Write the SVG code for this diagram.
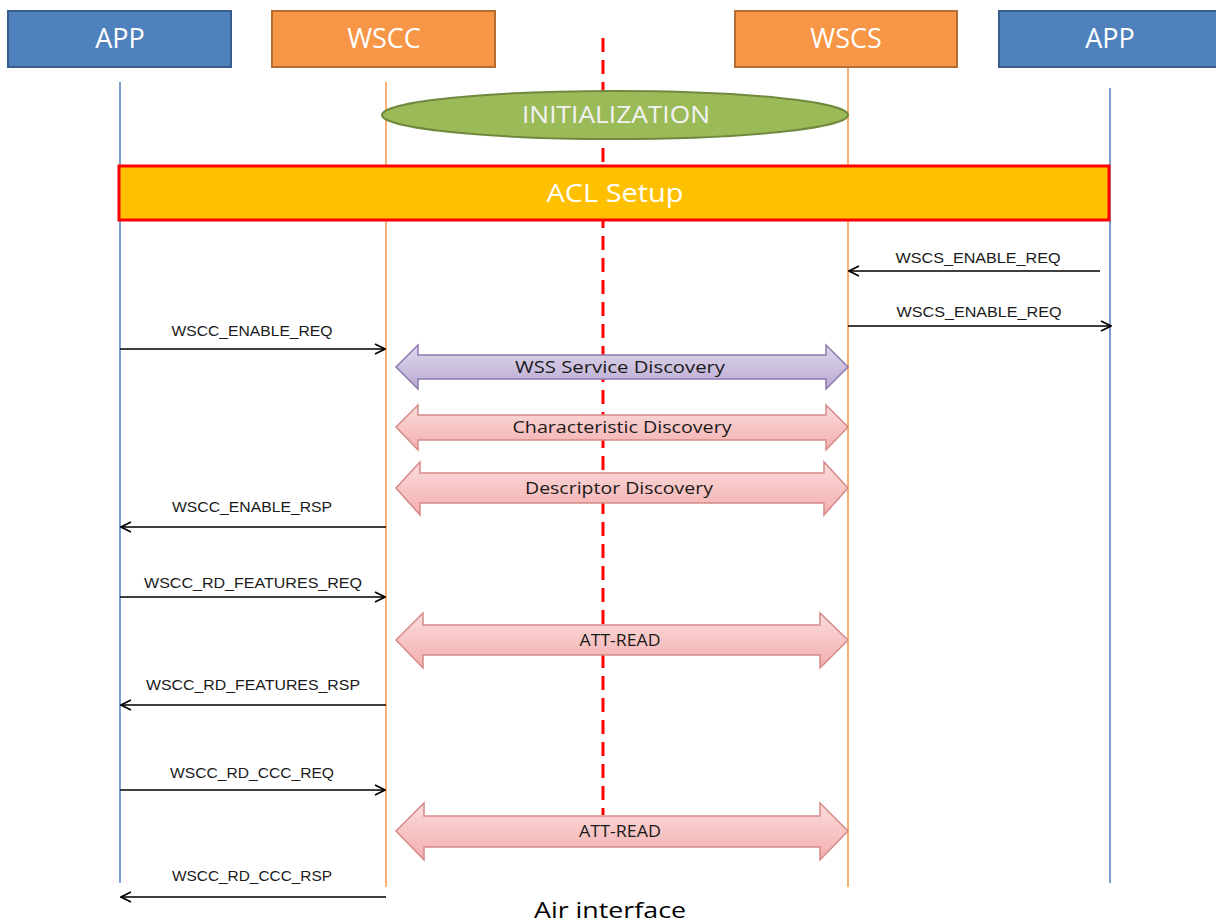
<svg xmlns="http://www.w3.org/2000/svg" width="1216" height="924" viewBox="0 0 1216 924">
<defs>
<style>
.box-app{fill:#4F81BD;stroke:#385D8A;stroke-width:2}
.box-ws{fill:#F79646;stroke:#B66D31;stroke-width:2}
.title{font-family:"Open Sans","Liberation Sans",sans-serif;font-size:27px;fill:#FFFFFF;text-anchor:middle}
.life-app{stroke:#4F81BD;stroke-width:1.5;fill:none}
.life-ws{stroke:#F79646;stroke-width:1.5;fill:none}
.msg{stroke:#000;stroke-width:1.5;fill:none}
.lbl{font-family:"Liberation Sans",Arial,sans-serif;font-size:15px;fill:#1a1a1a;text-anchor:middle}
.blbl{font-family:"Open Sans","Liberation Sans",sans-serif;font-size:16px;fill:#1a1a1a;text-anchor:middle}
.purple{fill:url(#gPurple);stroke:#8C7AAE;stroke-width:1.5}
.pink{fill:url(#gPink);stroke:#D48A88;stroke-width:1.5}
</style>
<linearGradient id="gPurple" x1="0" y1="0" x2="0" y2="1">
<stop offset="0" stop-color="#E0D8EC"/><stop offset="1" stop-color="#B9A9D2"/>
</linearGradient>
<linearGradient id="gPink" x1="0" y1="0" x2="0" y2="1">
<stop offset="0" stop-color="#FBDCDC"/><stop offset="1" stop-color="#F4AEAE"/>
</linearGradient>
<marker id="open" viewBox="0 0 12 12" refX="11" refY="6" markerWidth="12" markerHeight="12" markerUnits="userSpaceOnUse" orient="auto">
<path d="M1,1 L11,6 L1,11" fill="none" stroke="#000" stroke-width="1.6"/>
</marker>
</defs>
<rect width="1216" height="924" fill="#FFFFFF"/>

<!-- lifelines -->
<g id="lifelines">
<line class="life-app" x1="120" y1="82" x2="120" y2="883"/>
<line class="life-ws" x1="386" y1="82" x2="386" y2="887"/>
<line class="life-ws" x1="848" y1="67" x2="848" y2="887"/>
<line class="life-app" x1="1110" y1="88" x2="1110" y2="883"/>
<line x1="603" y1="38" x2="603" y2="815" stroke="#FF0000" stroke-width="3" stroke-dasharray="14,8"/>
</g>

<g id="app-left"><rect class="box-app" x="8" y="11" width="223" height="56"/><text class="title" x="120" y="48">APP</text></g>
<g id="wscc"><rect class="box-ws" x="272" y="11" width="223" height="56"/><text class="title" x="384" y="48">WSCC</text></g>
<g id="wscs"><rect class="box-ws" x="735" y="11" width="222" height="56"/><text class="title" x="846" y="48">WSCS</text></g>
<g id="app-right"><rect class="box-app" x="999" y="11" width="230" height="56"/><text class="title" x="1110" y="48">APP</text></g>

<g id="initialization">
<ellipse cx="615" cy="115" rx="233" ry="24" fill="#9BBB59" stroke="#71893F" stroke-width="2"/>
<text x="616" y="123" font-family="Open Sans, Liberation Sans, sans-serif" font-size="23" fill="#F2F2F2" text-anchor="middle" textLength="188" lengthAdjust="spacingAndGlyphs">INITIALIZATION</text>
</g>

<g id="acl-setup">
<rect x="119" y="166" width="990" height="54" fill="#FFC000" stroke="#FF0000" stroke-width="3"/>
<text x="615" y="202" font-family="Open Sans, Liberation Sans, sans-serif" font-size="26" fill="#FFFFFF" text-anchor="middle" textLength="137" lengthAdjust="spacingAndGlyphs">ACL Setup</text>
</g>

<g id="block-arrows">
<g id="wss-discovery">
<path class="purple" d="M396,367 L418,345 L418,355 L826,355 L826,345 L848,367 L826,389 L826,379 L418,379 L418,389 Z"/>
<text class="blbl" x="620" y="373" textLength="210" lengthAdjust="spacingAndGlyphs">WSS  Service Discovery</text>
</g>
<g id="char-discovery">
<path class="pink" d="M396,427 L418,405 L418,415 L826,415 L826,405 L848,427 L826,450 L826,440 L418,440 L418,450 Z"/>
<text class="blbl" x="622" y="433" textLength="219" lengthAdjust="spacingAndGlyphs">Characteristic Discovery</text>
</g>
<g id="desc-discovery">
<path class="pink" d="M396,488 L420,462 L420,473 L824,473 L824,462 L848,488 L824,515 L824,503 L420,503 L420,515 Z"/>
<text class="blbl" x="619" y="494" textLength="188" lengthAdjust="spacingAndGlyphs">Descriptor Discovery</text>
</g>
<g id="att-read-1">
<path class="pink" d="M396,640 L423,613 L423,625 L820,625 L820,613 L848,640 L820,668 L820,655 L423,655 L423,668 Z"/>
<text class="blbl" x="620" y="646" textLength="81" lengthAdjust="spacingAndGlyphs">ATT-READ</text>
</g>
<g id="att-read-2">
<path class="pink" d="M396,831 L424,803 L424,816 L820,816 L820,803 L848,831 L820,860 L820,847 L424,847 L424,860 Z"/>
<text class="blbl" x="620" y="837" textLength="82" lengthAdjust="spacingAndGlyphs">ATT-READ</text>
</g>
</g>

<g id="connectors">
<line class="msg" x1="1100" y1="271" x2="849" y2="271" marker-end="url(#open)"/>
<line class="msg" x1="848" y1="326" x2="1111" y2="326" marker-end="url(#open)"/>
<line class="msg" x1="120" y1="349" x2="385" y2="349" marker-end="url(#open)"/>
<line class="msg" x1="386" y1="527" x2="121" y2="527" marker-end="url(#open)"/>
<line class="msg" x1="120" y1="597" x2="385" y2="597" marker-end="url(#open)"/>
<line class="msg" x1="386" y1="705" x2="121" y2="705" marker-end="url(#open)"/>
<line class="msg" x1="120" y1="790" x2="385" y2="790" marker-end="url(#open)"/>
<line class="msg" x1="386" y1="897" x2="121" y2="897" marker-end="url(#open)"/>
</g>

<g id="labels">
<text class="lbl" x="978" y="263" textLength="165" lengthAdjust="spacingAndGlyphs">WSCS_ENABLE_REQ</text>
<text class="lbl" x="979" y="317" textLength="165" lengthAdjust="spacingAndGlyphs">WSCS_ENABLE_REQ</text>
<text class="lbl" x="252" y="336" textLength="161" lengthAdjust="spacingAndGlyphs">WSCC_ENABLE_REQ</text>
<text class="lbl" x="252" y="512" textLength="160" lengthAdjust="spacingAndGlyphs">WSCC_ENABLE_RSP</text>
<text class="lbl" x="253" y="588" textLength="218" lengthAdjust="spacingAndGlyphs">WSCC_RD_FEATURES_REQ</text>
<text class="lbl" x="253" y="690" textLength="214" lengthAdjust="spacingAndGlyphs">WSCC_RD_FEATURES_RSP</text>
<text class="lbl" x="252" y="778" textLength="164" lengthAdjust="spacingAndGlyphs">WSCC_RD_CCC_REQ</text>
<text class="lbl" x="252" y="881" textLength="160" lengthAdjust="spacingAndGlyphs">WSCC_RD_CCC_RSP</text>
</g>

<text x="610" y="918" font-family="Open Sans, Liberation Sans, sans-serif" font-size="22" fill="#000" text-anchor="middle" textLength="152" lengthAdjust="spacingAndGlyphs">Air interface</text>
</svg>
